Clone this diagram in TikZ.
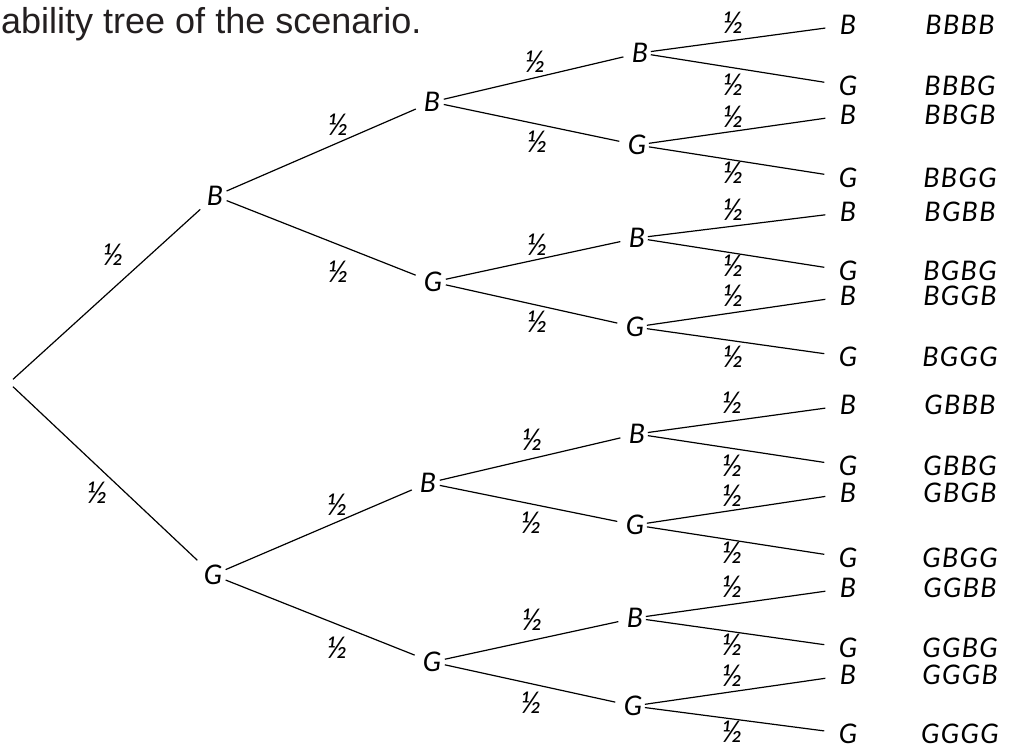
\documentclass[tikz,border=0pt]{standalone}
\usepackage{fontspec}
\setmainfont{Liberation Sans}
\newfontfamily\hand{Lato}
\newfontfamily\handwide{Lato}[LetterSpace=5]
\definecolor{titlegray}{HTML}{231F20}
\tikzset{
  lbl/.style={font=\hand\itshape\fontsize{27}{27}\selectfont, inner sep=0.5pt},
  leafstr/.style={font=\handwide\itshape\fontsize{27}{27}\selectfont, inner sep=0pt},
  half/.style={font=\hand\itshape\fontsize{30}{30}\selectfont, inner sep=0pt},
  titletext/.style={font=\fontsize{36}{36}\selectfont, text=titlegray, anchor=base west, inner sep=0pt},
  branch/.style={line width=1.2pt, shorten <=3pt, shorten >=8pt},
  leafbranch/.style={line width=1.2pt, shorten <=2pt, shorten >=14pt},
}
\begin{document}
\begin{tikzpicture}[x=1pt,y=-1pt]
\fill[white] (0,0) rectangle (1016,748);
\useasboundingbox (0,0) rectangle (1016,748);

\node[titletext] (title) at (1,33) {ability tree of the scenario.};

% root and levels
\node[inner sep=0pt, minimum height=7pt, minimum width=1pt] (r) at (13,383) {};
\node[lbl] (b) at (215,196) {B};
\node[lbl] (g) at (213,575) {G};

\node[lbl] (bb) at (432,102) {B};
\node[lbl] (bg) at (433,282) {G};
\node[lbl] (gb) at (428,483) {B};
\node[lbl] (gg) at (432,662) {G};

\node[lbl] (bbb) at (640,53) {B};
\node[lbl] (bbg) at (637,145) {G};
\node[lbl] (bgb) at (637,238) {B};
\node[lbl] (bgg) at (635,327) {G};
\node[lbl] (gbb) at (637,434) {B};
\node[lbl] (gbg) at (635,525) {G};
\node[lbl] (ggb) at (635,618) {B};
\node[lbl] (ggg) at (633,706) {G};

% leaves
\foreach \n/\l/\y in {bbbb/B/25, bbbg/G/86, bbgb/B/115, bbgg/G/178,
                      bgbb/B/212, bgbg/G/271, bggb/B/296, bggg/G/357,
                      gbbb/B/405, gbbg/G/466, gbgb/B/493, gbgg/G/558,
                      ggbb/B/588, ggbg/G/648, gggb/B/675, gggg/G/734}{
  \node[lbl] (\n) at (848,\y) {\l};
}
\node[leafstr] (sbbbb) at (960,25) {BBBB};
\node[leafstr] (sbbbg) at (960,86) {BBBG};
\node[leafstr] (sbbgb) at (960,115) {BBGB};
\node[leafstr] (sbbgg) at (960,178) {BBGG};
\node[leafstr] (sbgbb) at (960,212) {BGBB};
\node[leafstr] (sbgbg) at (960,271) {BGBG};
\node[leafstr] (sbggb) at (960,296) {BGGB};
\node[leafstr] (sbggg) at (960,357) {BGGG};
\node[leafstr] (sgbbb) at (960,405) {GBBB};
\node[leafstr] (sgbbg) at (960,466) {GBBG};
\node[leafstr] (sgbgb) at (960,493) {GBGB};
\node[leafstr] (sgbgg) at (960,558) {GBGG};
\node[leafstr] (sggbb) at (960,588) {GGBB};
\node[leafstr] (sggbg) at (960,648) {GGBG};
\node[leafstr] (sgggb) at (960,675) {GGGB};
\node[leafstr] (sgggg) at (960,734) {GGGG};

% connectors
\draw[branch, shorten <=0pt] (r.north) -- (b);
\draw[branch, shorten <=0pt] (r.south) -- (g);
\draw[branch] (b) -- (bb);
\draw[branch] (b) -- (bg);
\draw[branch] (g) -- (gb);
\draw[branch] (g) -- (gg);
\draw[branch] (bb) -- (bbb);
\draw[branch] (bb) -- (bbg);
\draw[branch] (bg) -- (bgb);
\draw[branch] (bg) -- (bgg);
\draw[branch] (gb) -- (gbb);
\draw[branch] (gb) -- (gbg);
\draw[branch] (gg) -- (ggb);
\draw[branch] (gg) -- (ggg);
\draw[leafbranch] (bbb) -- (bbbb);
\draw[leafbranch] (bbb) -- (bbbg);
\draw[leafbranch] (bbg) -- (bbgb);
\draw[leafbranch] (bbg) -- (bbgg);
\draw[leafbranch] (bgb) -- (bgbb);
\draw[leafbranch] (bgb) -- (bgbg);
\draw[leafbranch] (bgg) -- (bggb);
\draw[leafbranch] (bgg) -- (bggg);
\draw[leafbranch] (gbb) -- (gbbb);
\draw[leafbranch] (gbb) -- (gbbg);
\draw[leafbranch] (gbg) -- (gbgb);
\draw[leafbranch] (gbg) -- (gbgg);
\draw[leafbranch] (ggb) -- (ggbb);
\draw[leafbranch] (ggb) -- (ggbg);
\draw[leafbranch] (ggg) -- (gggb);
\draw[leafbranch] (ggg) -- (gggg);

% probabilities
\foreach \n/\x/\y in {h1/113/255, h2/97/493,
                      h3/338/125, h4/338/272, h5/337/505, h6/337/648,
                      h7/535/62, h8/537/142, h9/537/245, h10/537/322,
                      h11/532/440, h12/531/523, h13/532/620, h14/531/703,
                      h15/733/23, h16/733/85, h17/733/117, h18/733/173,
                      h19/733/210, h20/733/266, h21/733/296, h22/733/357,
                      h23/732/403, h24/732/466, h25/732/496, h26/732/553,
                      h27/732/587, h28/732/645, h29/732/676, h30/732/732}{
  \node[half] (\n) at (\x,\y) {½};
}
\end{tikzpicture}
\end{document}
